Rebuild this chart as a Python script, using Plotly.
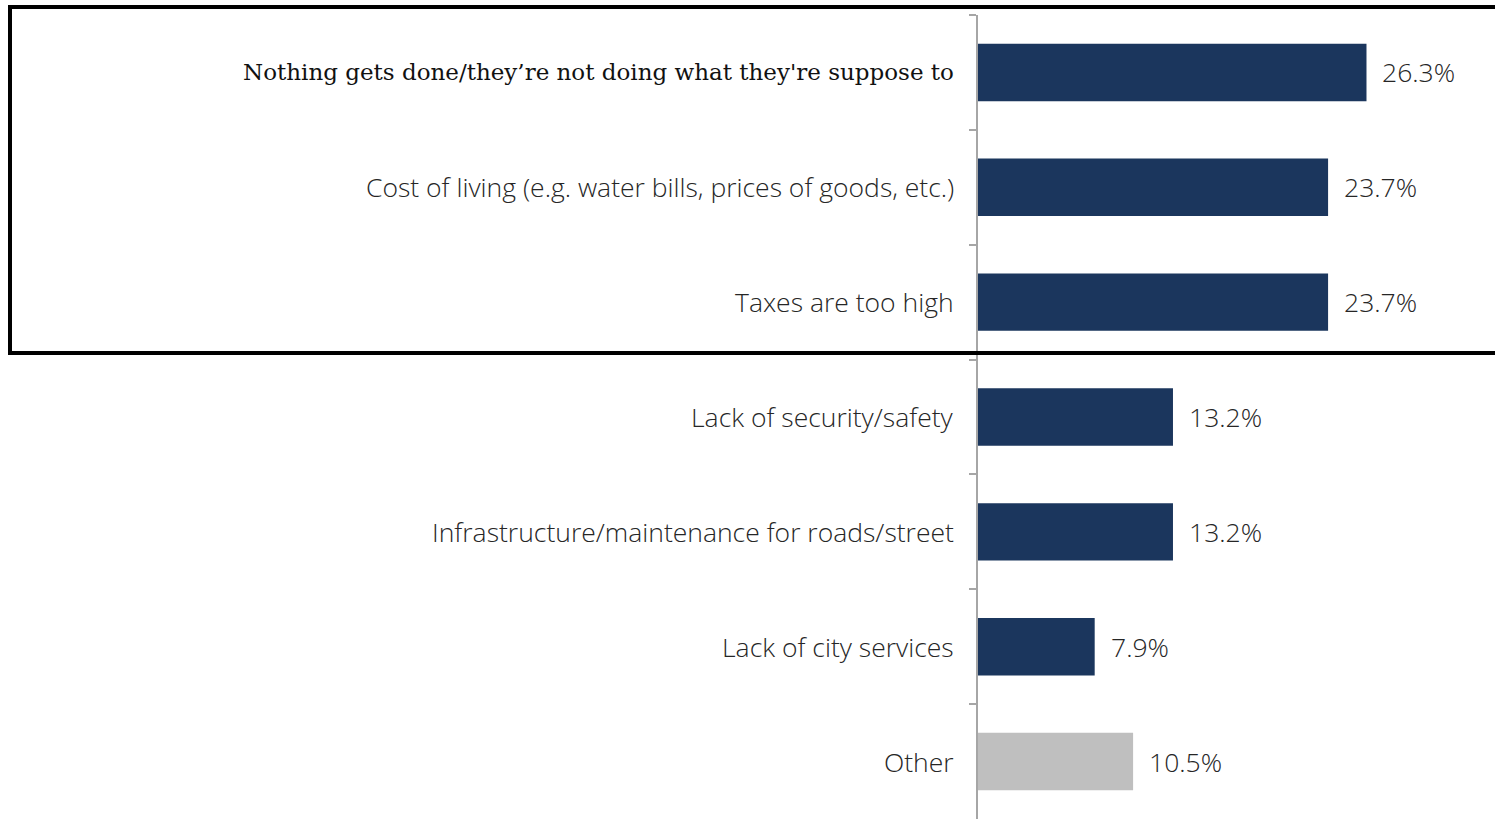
import plotly.graph_objects as go

categories = [
    "Nothing gets done/they’re not doing what they're suppose to",
    "Cost of living (e.g. water bills, prices of goods, etc.)",
    "Taxes are too high",
    "Lack of security/safety",
    "Infrastructure/maintenance for roads/street",
    "Lack of city services",
    "Other",
]
values = [26.3, 23.7, 23.7, 13.2, 13.2, 7.9, 10.5]
value_labels = ["26.3%", "23.7%", "23.7%", "13.2%", "13.2%", "7.9%", "10.5%"]

NAVY = "#1b365d"
GRAY = "#bfbfbf"
colors = [NAVY] * 6 + [GRAY]

SANS = dict(family="Open Sans", size=26.5, color="#262626", weight=300)
SERIF = dict(family="DejaVu Serif", size=23, color="#111111")

fig = go.Figure(
    go.Bar(
        x=values,
        y=categories,
        orientation="h",
        marker=dict(color=colors, line=dict(width=0)),
        width=0.5,
        hoverinfo="skip",
    )
)

annotations = []
for i, (c, v, t) in enumerate(zip(categories, values, value_labels)):
    annotations.append(dict(
        x=v, y=c, xref="x", yref="y", text=t, showarrow=False,
        xanchor="left", yanchor="middle", xshift=14,
        font=SANS,
    ))
    annotations.append(dict(
        x=0, y=c, xref="paper", yref="y", text=c, showarrow=False,
        xanchor="right", yanchor="middle", xshift=-22,
        font=SERIF if i == 0 else SANS,
    ))

fig.update_layout(
    width=1495, height=819,
    margin=dict(l=978, r=0, t=15, b=0),
    paper_bgcolor="white", plot_bgcolor="white",
    showlegend=False,
    bargap=0.5,
    annotations=annotations,
    xaxis=dict(range=[0, 35], showgrid=False, zeroline=False, showticklabels=False,
               showline=False, fixedrange=True),
    yaxis=dict(autorange="reversed", showgrid=False, zeroline=False,
               showticklabels=False, showline=True, linecolor="#a6a6a6", linewidth=2,
               ticks="outside", tickson="boundaries", ticklen=7, tickcolor="#a6a6a6",
               tickwidth=2, fixedrange=True),
    shapes=[dict(
        type="rect", xref="paper", yref="paper",
        x0=(10 - 978) / 517, x1=1.02,
        y0=1 - (353 - 15) / 804, y1=1 + 8 / 804,
        line=dict(color="black", width=4), fillcolor="rgba(0,0,0,0)",
        layer="above",
    )],
)

fig.write_html(
    "out.html",
    config={"displayModeBar": False},
    post_script="document.body.style.margin='0px';document.body.style.overflow='hidden';",
)
